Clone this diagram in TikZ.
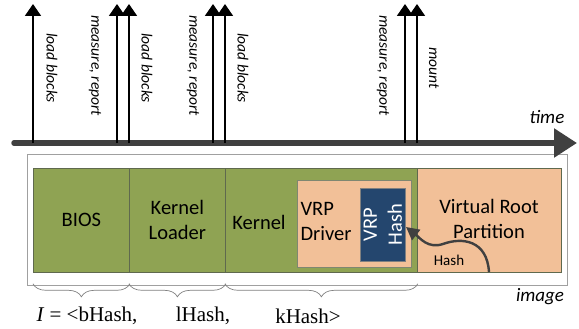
\documentclass[tikz,border=0pt]{standalone}
\usepackage{fontspec}
\setmainfont{Carlito}
\newfontfamily\serifnote{Liberation Serif}
\usetikzlibrary{arrows.meta,decorations.pathreplacing}

\definecolor{blockgreen}{RGB}{143,163,83}
\definecolor{blockline}{RGB}{95,105,78}
\definecolor{partpeach}{RGB}{242,192,152}
\definecolor{hashblue}{RGB}{36,70,110}
\definecolor{axisgray}{RGB}{64,64,64}
\definecolor{framegray}{RGB}{160,160,160}

\begin{document}
\begin{tikzpicture}[x=1pt, y=-1pt]
    \tikzstyle{block}=[draw=blockline, line width=0.8pt, anchor=north west, inner sep=0, minimum height=104pt]
    \tikzstyle{blocktext}=[align=center, inner sep=0, font=\fontsize{20.5}{25}\selectfont]
    \tikzstyle{event}=[draw, line width=1.8pt, -{Triangle[width=16pt, length=12pt]}]
    \tikzstyle{eventlabel}=[rotate=-90, anchor=west, inner sep=0, font=\itshape\fontsize{15.5}{18}\selectfont]
    \tikzstyle{brace}=[draw=gray, line width=0.7pt, decorate, decoration={brace, mirror, amplitude=13pt, raise=11pt}]
    \tikzstyle{hashpart}=[inner sep=0, font=\serifnote\fontsize{21}{25}\selectfont]
    \useasboundingbox (0,0) rectangle (579,329);

    % image frame and its blocks
    \node[draw=framegray, line width=1.2pt, fill=white, anchor=north west, minimum width=540pt, minimum height=131pt] (imgbox) at (27,154) {};
    \node[block, fill=blockgreen, minimum width=96pt] (bios) at (33,168) {};
    \node[block, fill=blockgreen, minimum width=96pt] (loader) at (129,168) {};
    \node[block, fill=blockgreen, minimum width=192pt] (kernel) at (225,168) {};
    \node[block, fill=partpeach, minimum width=144pt] (vrp) at (417,168) {};
    \node[draw=blockline!80, line width=0.8pt, fill=partpeach, anchor=north west, minimum width=114pt, minimum height=87pt] (driver) at (297,180) {};
    \node[draw=gray, line width=0.6pt, fill=hashblue, anchor=north west, minimum width=45pt, minimum height=73pt] (hashbox) at (360,188) {};

    \node[blocktext] (bioslabel) at (bios.center) {BIOS};
    \node[blocktext] (loaderlabel) at (loader.center) {Kernel\\Loader};
    \node[blocktext] (kernellabel) at (259,222) {Kernel};
    \node[blocktext, align=left] (driverlabel) at (326,221) {VRP\\Driver};
    \node[blocktext, text=white, rotate=90] (hashlabel) at (hashbox.center) {VRP\\Hash};
    \node[blocktext] (vrplabel) at (489,219) {Virtual Root\\Partition};

    % hash of the partition into the driver
    \coordinate (hsrc) at (489,272);
    \coordinate (htip) at (406,227);
    \draw[axisgray, line width=2.4pt, -{Triangle[width=13pt, length=13pt]}]
      (hsrc) .. controls (487,240) and (462,237) .. (443,244) .. controls (428,249) and (420,238) .. (htip);
    \node[inner sep=0, font=\fontsize{15}{18}\selectfont] (hashtext) at (449,260) {Hash};

    % time axis
    \coordinate (tstart) at (14,143);
    \coordinate (tend) at (577,143);
    \draw[axisgray, line width=5.5pt, line cap=round, -{Triangle[width=28pt, length=23pt, line cap=butt]}] (tstart) -- (tend);
    \node[font=\itshape\fontsize{19}{22}\selectfont] (time) at (547,117) {time};
    \node[font=\itshape\fontsize{19}{22}\selectfont] (image) at (540,297) {image};

    % events on the time axis
    \coordinate (b1) at (33,143);  \coordinate (e1) at (33,4);
    \coordinate (b2) at (117,143); \coordinate (e2) at (117,4);
    \coordinate (b3) at (129,143); \coordinate (e3) at (129,4);
    \coordinate (b4) at (213,143); \coordinate (e4) at (213,4);
    \coordinate (b5) at (225,143); \coordinate (e5) at (225,4);
    \coordinate (b6) at (405,143); \coordinate (e6) at (405,4);
    \coordinate (b7) at (417,143); \coordinate (e7) at (417,4);
    \path
      (b1) edge[event] (e1)
      (b2) edge[event] (e2)
      (b3) edge[event] (e3)
      (b4) edge[event] (e4)
      (b5) edge[event] (e5)
      (b6) edge[event] (e6)
      (b7) edge[event] (e7);

    \node[eventlabel] (load1) at (52,33) {load blocks};
    \node[eventlabel] (meas1) at (95,15) {measure, report};
    \node[eventlabel] (load2) at (147,33) {load blocks};
    \node[eventlabel] (meas2) at (193,15) {measure, report};
    \node[eventlabel] (load3) at (243,33) {load blocks};
    \node[eventlabel] (meas3) at (383,15) {measure, report};
    \node[eventlabel] (mount) at (434,47) {mount};

    % measured parts
    \draw[brace] (bios.south west) -- (bios.south east);
    \draw[brace] (loader.south west) -- (loader.south east);
    \draw[brace] (kernel.south west) -- (kernel.south east);
    \node[hashpart] (bhash) at (87,316) {\textit{I} = <bHash,};
    \node[hashpart] (lhash) at (203,316) {lHash,};
    \node[hashpart] (khash) at (308,316) {kHash>};
\end{tikzpicture}
\end{document}
